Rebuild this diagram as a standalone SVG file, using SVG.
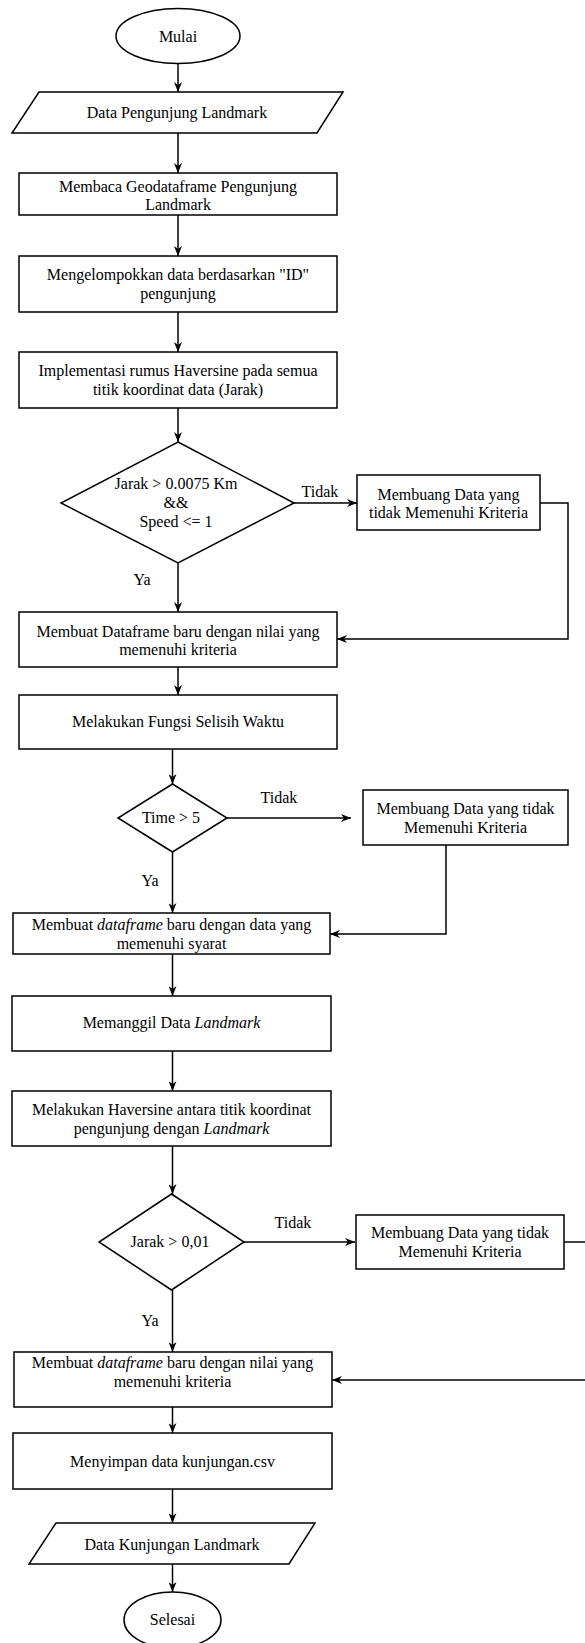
<svg xmlns="http://www.w3.org/2000/svg" width="585" height="1643" viewBox="0 0 585 1643" font-family="'Liberation Serif', 'Times New Roman', serif">
  <defs>
    <marker id="arrow" viewBox="0 0 10 8" refX="10" refY="4" markerWidth="10" markerHeight="8" markerUnits="userSpaceOnUse" orient="auto">
      <path d="M0,0 L10,4 L0,8 L3,4 z" fill="#000"/>
    </marker>
    <style>
      .shape { fill: #fff; stroke: #000; stroke-width: 1.5; }
      .edge { fill: none; stroke: #000; stroke-width: 1.5; marker-end: url(#arrow); }
      .line { fill: none; stroke: #000; stroke-width: 1.5; }
      text { font-family: "Liberation Serif", "Times New Roman", serif; font-size: 16px; fill: #000; text-anchor: middle; }
      .it { font-style: italic; }
    </style>
  </defs>
  <rect width="585" height="1643" fill="#fff"/>

  <!-- connectors and branch labels -->
  <g id="connectors">
    <path class="edge" d="M178,63 L178,92"/>
    <path class="edge" d="M178,133 L178,173"/>
    <path class="edge" d="M178,215 L178,256"/>
    <path class="edge" d="M178,312 L178,352"/>
    <path class="edge" d="M178,408 L178,442"/>
    <path class="edge" d="M178,563 L178,612"/>
    <path class="edge" d="M294,503 L357,503"/>
    <path class="edge" d="M540,503 L568,503 L568,639 L337,639"/>
    <path class="edge" d="M178,667 L178,695"/>
    <path class="edge" d="M172.5,749 L172.5,784"/>
    <path class="edge" d="M227,818 L351,818"/>
    <path class="edge" d="M446,845 L446,934 L330,934"/>
    <path class="edge" d="M172.5,852 L172.5,913"/>
    <path class="edge" d="M172.5,954 L172.5,996"/>
    <path class="edge" d="M172.5,1051 L172.5,1091"/>
    <path class="edge" d="M172.5,1146 L172.5,1194"/>
    <path class="edge" d="M244,1242 L355,1242"/>
    <path class="line" d="M564,1242 L590,1242"/>
    <path class="edge" d="M590,1380 L332,1380"/>
    <path class="edge" d="M172.5,1290 L172.5,1352"/>
    <path class="edge" d="M172.5,1407 L172.5,1433"/>
    <path class="edge" d="M172.5,1489 L172.5,1523"/>
    <path class="edge" d="M172.5,1564 L172.5,1592"/>
    <text x="320" y="497">Tidak</text>
    <text x="142" y="585">Ya</text>
    <text x="279" y="803">Tidak</text>
    <text x="150" y="886">Ya</text>
    <text x="293" y="1228">Tidak</text>
    <text x="150" y="1326">Ya</text>
  </g>

  <g id="mulai">
    <ellipse class="shape" cx="178" cy="36" rx="62" ry="27.5"/>
    <text x="178" y="42">Mulai</text>
  </g>

  <g id="data-pengunjung">
    <polygon class="shape" points="39,92 343,92 317,133 12,133"/>
    <text x="177" y="118">Data Pengunjung Landmark</text>
  </g>

  <g id="membaca">
    <rect class="shape" x="19" y="173" width="318" height="42"/>
    <text x="178" y="192">Membaca Geodataframe Pengunjung</text>
    <text x="178" y="210">Landmark</text>
  </g>

  <g id="mengelompokkan">
    <rect class="shape" x="19" y="256" width="318" height="56"/>
    <text x="178" y="280">Mengelompokkan data berdasarkan "ID"</text>
    <text x="178" y="299">pengunjung</text>
  </g>

  <g id="haversine-semua">
    <rect class="shape" x="19" y="352" width="318" height="56"/>
    <text x="178" y="376">Implementasi rumus Haversine pada semua</text>
    <text x="178" y="395">titik koordinat data (Jarak)</text>
  </g>

  <g id="cek-jarak-speed">
    <polygon class="shape" points="178,442 294,503 178,563 61,503"/>
    <text x="176" y="489">Jarak &gt; 0.0075 Km</text>
    <text x="176" y="508">&amp;&amp;</text>
    <text x="176" y="527">Speed &lt;= 1</text>
  </g>

  <g id="buang-1">
    <rect class="shape" x="357" y="475" width="183" height="55"/>
    <text x="448.5" y="500">Membuang Data yang</text>
    <text x="448.5" y="518">tidak Memenuhi Kriteria</text>
  </g>

  <g id="dataframe-baru-1">
    <rect class="shape" x="19" y="612" width="318" height="55"/>
    <text x="178" y="637">Membuat Dataframe baru dengan nilai yang</text>
    <text x="178" y="655">memenuhi kriteria</text>
  </g>

  <g id="selisih-waktu">
    <rect class="shape" x="19" y="695" width="318" height="54"/>
    <text x="178" y="727">Melakukan Fungsi Selisih Waktu</text>
  </g>

  <g id="cek-time">
    <polygon class="shape" points="172.5,784 227,818 172.5,852 118,818"/>
    <text x="171" y="823">Time &gt; 5</text>
  </g>

  <g id="buang-2">
    <rect class="shape" x="363" y="790" width="205" height="55"/>
    <text x="465.5" y="814">Membuang Data yang tidak</text>
    <text x="465.5" y="833">Memenuhi Kriteria</text>
  </g>

  <g id="dataframe-baru-2">
    <rect class="shape" x="13" y="913" width="317" height="41"/>
    <text x="171.5" y="930">Membuat <tspan class="it">dataframe</tspan> baru dengan data yang</text>
    <text x="171.5" y="949">memenuhi syarat</text>
  </g>

  <g id="panggil-landmark">
    <rect class="shape" x="12" y="996" width="319" height="55"/>
    <text x="171.5" y="1028">Memanggil Data <tspan class="it">Landmark</tspan></text>
  </g>

  <g id="haversine-landmark">
    <rect class="shape" x="12" y="1091" width="319" height="55"/>
    <text x="171.5" y="1115">Melakukan Haversine antara titik koordinat</text>
    <text x="171.5" y="1134">pengunjung dengan <tspan class="it">Landmark</tspan></text>
  </g>

  <g id="cek-jarak">
    <polygon class="shape" points="171.5,1194 244,1242 171.5,1290 99,1242"/>
    <text x="170" y="1247">Jarak &gt; 0,01</text>
  </g>

  <g id="buang-3">
    <rect class="shape" x="356" y="1215" width="208" height="54"/>
    <text x="460" y="1238">Membuang Data yang tidak</text>
    <text x="460" y="1257">Memenuhi Kriteria</text>
  </g>

  <g id="dataframe-baru-3">
    <rect class="shape" x="14" y="1352" width="318" height="55"/>
    <text x="172.5" y="1368">Membuat <tspan class="it">dataframe</tspan> baru dengan nilai yang</text>
    <text x="172.5" y="1387">memenuhi kriteria</text>
  </g>

  <g id="simpan-csv">
    <rect class="shape" x="13" y="1433" width="319" height="56"/>
    <text x="172.5" y="1467">Menyimpan data kunjungan.csv</text>
  </g>

  <g id="data-kunjungan">
    <polygon class="shape" points="56,1523 315,1523 289,1564 29,1564"/>
    <text x="172" y="1550">Data Kunjungan Landmark</text>
  </g>

  <g id="selesai">
    <ellipse class="shape" cx="172.5" cy="1620" rx="48.5" ry="28"/>
    <text x="172.5" y="1625">Selesai</text>
  </g>
</svg>
